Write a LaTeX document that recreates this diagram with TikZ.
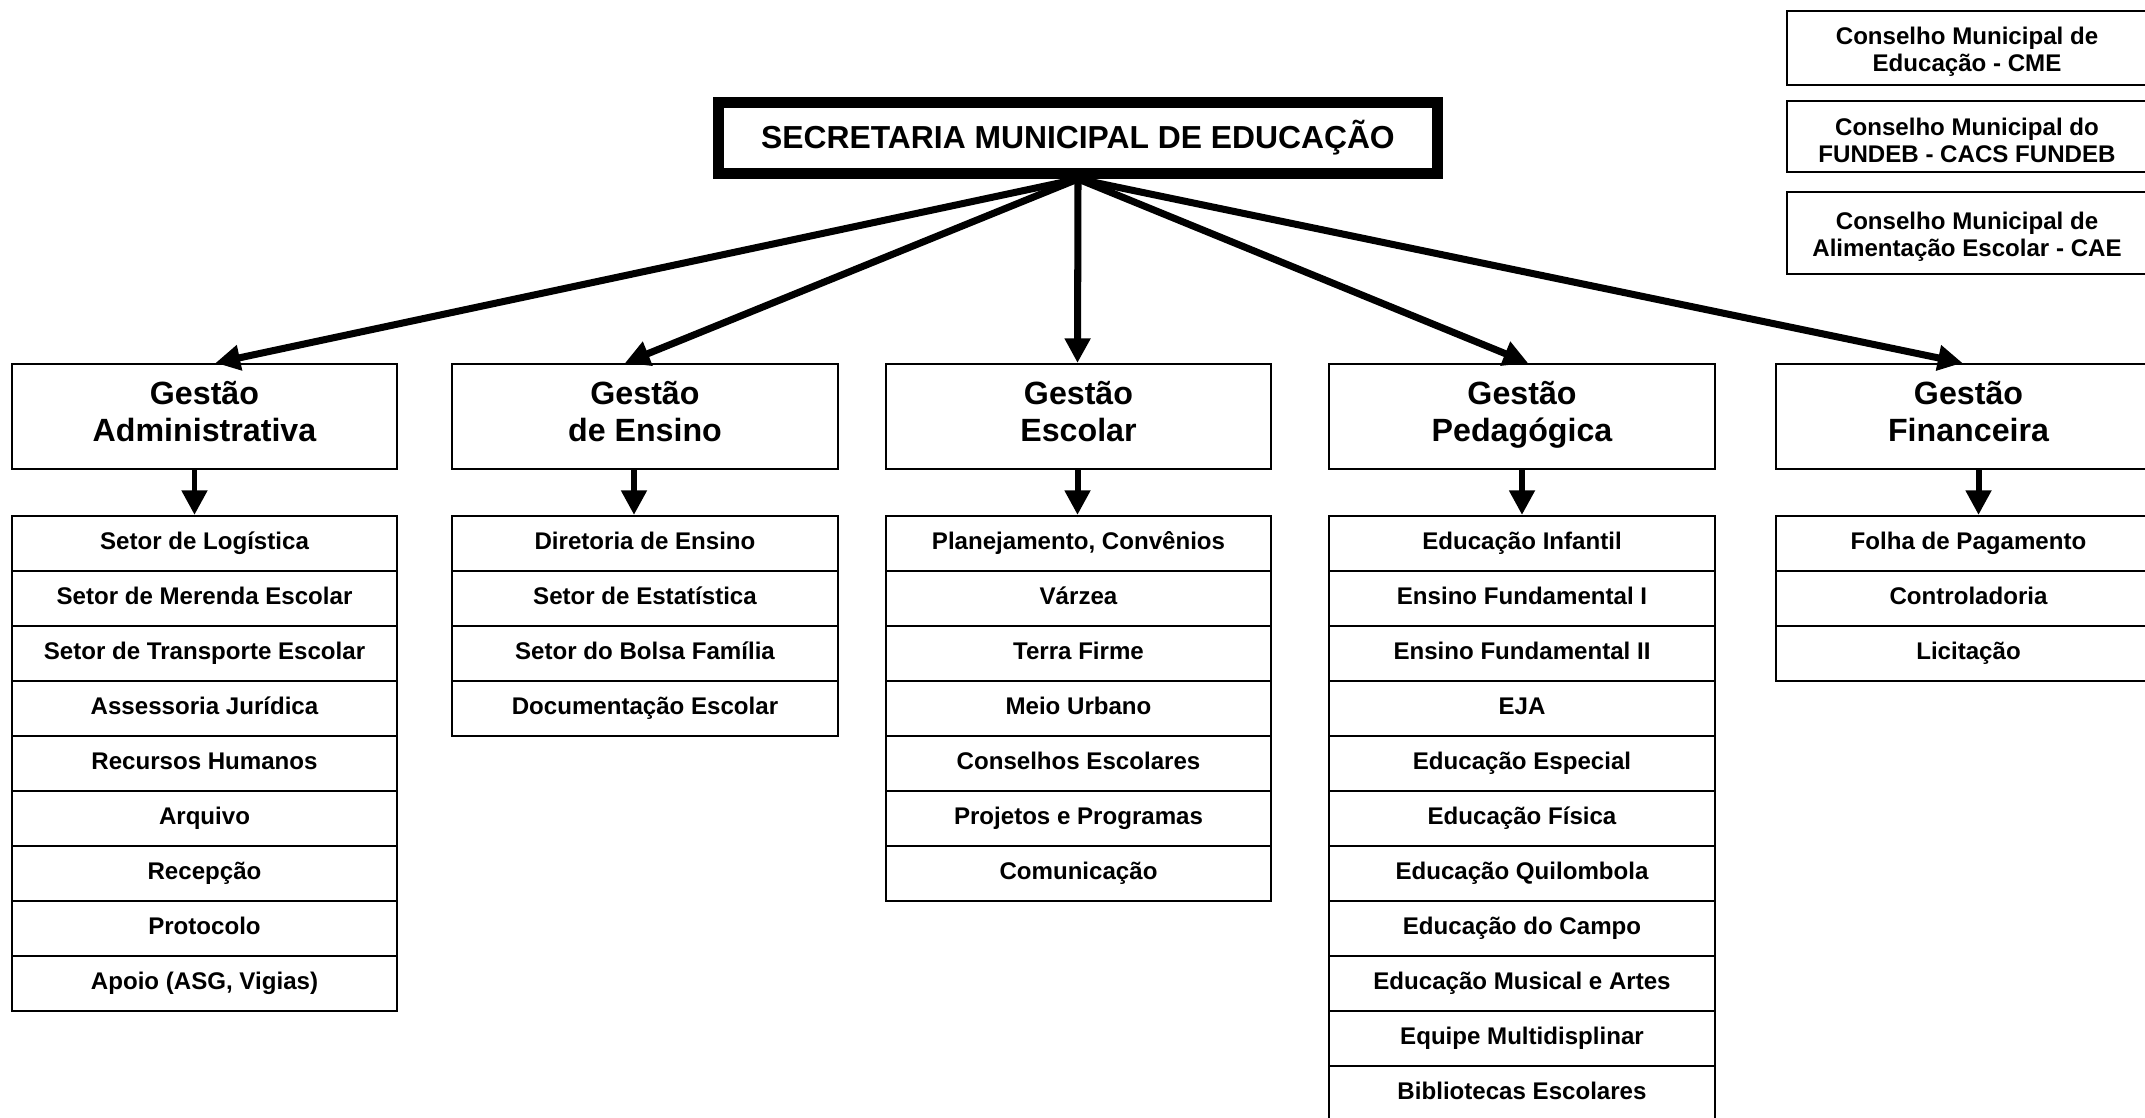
\documentclass[tikz,border=0pt]{standalone}
\usepackage{fontspec}
\setmainfont{Liberation Sans}
\usetikzlibrary{arrows.meta,positioning}

\begin{document}
\begin{tikzpicture}[x=0.01cm,y=-0.01cm,>={Triangle[width=7pt,length=7pt]},line width=0.6pt,node distance=0.55cm]
   \tikzstyle{gestao}=[draw,minimum width=3.85cm,minimum height=1.05cm,align=center,inner sep=0pt,font=\fontsize{9.15}{10.5}\selectfont\bfseries,execute at begin node=\strut,execute at end node=\strut]
   \tikzstyle{setor}=[draw,minimum width=3.85cm,minimum height=0.55cm,inner sep=0pt,font=\fontsize{6.85}{8}\selectfont\bfseries,execute at begin node=\strut]
   \tikzstyle{conselho}=[draw,minimum width=3.6cm,align=center,inner sep=0pt,font=\fontsize{6.85}{7.6}\selectfont\bfseries,text height=14.6pt]
   \tikzstyle{seta}=[->,line width=2pt]
   \tikzstyle{desce}=[->,line width=1.7pt]

   \useasboundingbox (0,0) rectangle (2145,1117);

   \node[draw,line width=3.1pt,minimum width=7.19cm,minimum height=0.71cm,font=\fontsize{9.05}{11}\selectfont\bfseries] (sme) at (1078,138) {SECRETARIA MUNICIPAL DE EDUCAÇÃO};

   \node[conselho,minimum height=0.74cm] (cme)  at (1967,48)    {Conselho Municipal de\\Educação - CME};
   \node[conselho,minimum height=0.71cm] (cacs) at (1967,136.5) {Conselho Municipal do\\FUNDEB - CACS FUNDEB};
   \node[conselho,minimum height=0.82cm] (cae)  at (1967,233)   {Conselho Municipal de\\Alimentação Escolar - CAE};

   \node[gestao] (gAdm) at (204.5,416.5)  {Gestão\\Administrativa};
   \node[gestao] (gEns) at (645,416.5)    {Gestão\\de Ensino};
   \node[gestao] (gEsc) at (1078.5,416.5) {Gestão\\Escolar};
   \node[gestao] (gPed) at (1522,416.5)   {Gestão\\Pedagógica};
   \node[gestao] (gFin) at (1968.5,416.5) {Gestão\\Financeira};

   \node[setor] (adm1) at (204.5,543.5) {Setor de Logística};
   \node[setor] (adm2) [below of=adm1] {Setor de Merenda Escolar};
   \node[setor] (adm3) [below of=adm2] {Setor de Transporte Escolar};
   \node[setor] (adm4) [below of=adm3] {Assessoria Jurídica};
   \node[setor] (adm5) [below of=adm4] {Recursos Humanos};
   \node[setor] (adm6) [below of=adm5] {Arquivo};
   \node[setor] (adm7) [below of=adm6] {Recepção};
   \node[setor] (adm8) [below of=adm7] {Protocolo};
   \node[setor] (adm9) [below of=adm8] {Apoio (ASG, Vigias)};

   \node[setor] (ens1) at (645,543.5) {Diretoria de Ensino};
   \node[setor] (ens2) [below of=ens1] {Setor de Estatística};
   \node[setor] (ens3) [below of=ens2] {Setor do Bolsa Família};
   \node[setor] (ens4) [below of=ens3] {Documentação Escolar};

   \node[setor] (esc1) at (1078.5,543.5) {Planejamento, Convênios};
   \node[setor] (esc2) [below of=esc1] {Várzea};
   \node[setor] (esc3) [below of=esc2] {Terra Firme};
   \node[setor] (esc4) [below of=esc3] {Meio Urbano};
   \node[setor] (esc5) [below of=esc4] {Conselhos Escolares};
   \node[setor] (esc6) [below of=esc5] {Projetos e Programas};
   \node[setor] (esc7) [below of=esc6] {Comunicação};

   \node[setor] (ped1)  at (1522,543.5) {Educação Infantil};
   \node[setor] (ped2)  [below of=ped1]  {Ensino Fundamental I};
   \node[setor] (ped3)  [below of=ped2]  {Ensino Fundamental II};
   \node[setor] (ped4)  [below of=ped3]  {EJA};
   \node[setor] (ped5)  [below of=ped4]  {Educação Especial};
   \node[setor] (ped6)  [below of=ped5]  {Educação Física};
   \node[setor] (ped7)  [below of=ped6]  {Educação Quilombola};
   \node[setor] (ped8)  [below of=ped7]  {Educação do Campo};
   \node[setor] (ped9)  [below of=ped8]  {Educação Musical e Artes};
   \node[setor] (ped10) [below of=ped9]  {Equipe Multidisplinar};
   \node[setor] (ped11) [below of=ped10] {Bibliotecas Escolares};

   \node[setor] (fin1) at (1968.5,543.5) {Folha de Pagamento};
   \node[setor] (fin2) [below of=fin1] {Controladoria};
   \node[setor] (fin3) [below of=fin2] {Licitação};

   \path
     (sme.south)  edge  [seta]  ([xshift=0.11cm]gAdm.north)
     (sme.south)  edge  [seta]  ([xshift=-0.2cm]gEns.north)
     (sme.south)  edge  [seta]  ([xshift=-0.01cm]gEsc.north)
     (sme.south)  edge  [seta]  ([xshift=0.06cm]gPed.north)
     (sme.south)  edge  [seta]  ([xshift=-0.06cm]gFin.north);

   \path
     ([xshift=-0.1cm]gAdm.south)  edge  [desce]  ([xshift=-0.1cm]adm1.north)
     ([xshift=-0.11cm]gEns.south)  edge  [desce]  ([xshift=-0.11cm]ens1.north)
     ([xshift=-0.01cm]gEsc.south)  edge  [desce]  ([xshift=-0.01cm]esc1.north)
     (gPed.south)  edge  [desce]  (ped1.north)
     ([xshift=0.1cm]gFin.south)  edge  [desce]  ([xshift=0.1cm]fin1.north);
\end{tikzpicture}
\end{document}
